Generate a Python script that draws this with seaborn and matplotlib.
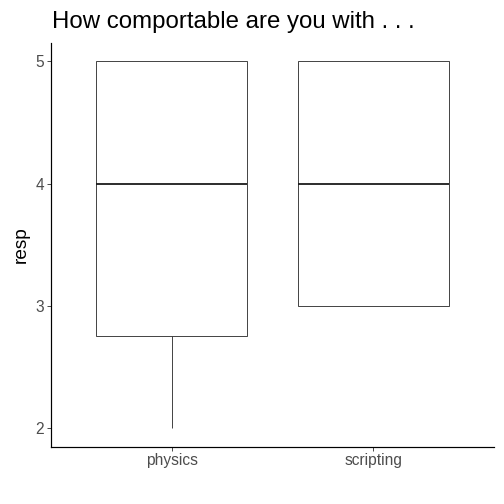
import matplotlib
matplotlib.use("Agg")
import matplotlib.pyplot as plt
import seaborn as sns
import pandas as pd

categories = ["physics", "physics", "physics", "physics",
              "scripting", "scripting", "scripting", "scripting"]
resp = [2, 3, 5, 5, 3, 3, 5, 5]
yticks = [2, 3, 4, 5]

df = pd.DataFrame({"var": categories, "resp": resp})

sns.set_style("ticks")
plt.rcParams["font.family"] = ["Liberation Sans", "DejaVu Sans"]

fig = plt.figure(figsize=(7, 7), dpi=72)
W = H = 504
ax = fig.add_axes([51 / W, (H - 446.5) / H, (494 - 51) / W, (446.5 - 43) / H])

sns.boxplot(data=df, x="var", y="resp", ax=ax, width=0.75, color="white",
            linecolor="#333333", linewidth=0.9, showcaps=False, showfliers=False,
            medianprops=dict(color="#1a1a1a", linewidth=1.8))

ax.set_xlim(0.4 - 1, 2.6 - 1)
ax.set_ylim(1.85, 5.15)
ax.set_yticks(yticks)
ax.set_yticklabels([str(v) for v in yticks])
ax.set_xlabel("")
ax.set_ylabel("resp", fontsize=19, color="black", labelpad=6)
ax.tick_params(axis="both", labelsize=15.5, colors="#4d4d4d", length=4, width=1, pad=3)
ax.tick_params(axis="both", labelcolor="#4d4d4d")
for s in ["left", "bottom"]:
    ax.spines[s].set_linewidth(1.2)
    ax.spines[s].set_color("black")
for s in ["top", "right"]:
    ax.spines[s].set_visible(False)

fig.text(52 / W, 1 - 22 / H, "How comportable are you with . . .", fontsize=24,
         ha="left", va="center", color="black")

fig.savefig("out.png", dpi=72)
